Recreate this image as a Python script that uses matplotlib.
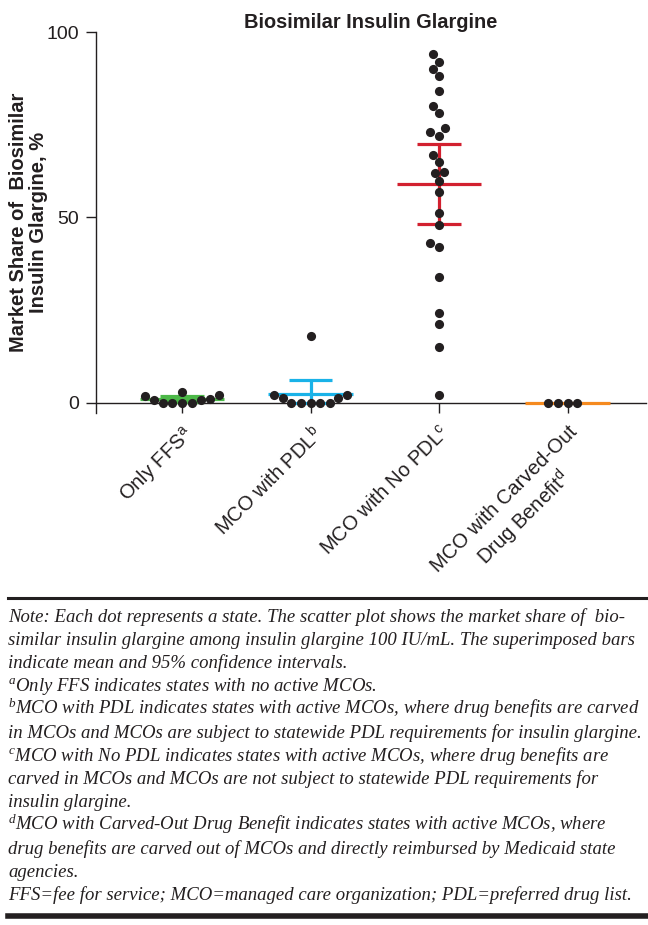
import matplotlib
matplotlib.use("Agg")
import matplotlib.pyplot as plt
from matplotlib.lines import Line2D
from matplotlib.transforms import ScaledTranslation
import numpy as np
import pandas as pd
import seaborn as sns

# market share (%) per state
only_ffs = [1.0, 0.0, 0.0, 2.0, 0.0, 0.0, 2.8, 0.7, 0.7, 1.9]
mco_pdl = [2.0, 1.2, 0.0, 0.0, 0.0, 0.0, 0.0, 1.2, 2.0, 17.9]
mco_no_pdl = [94.1, 92.1, 90.1, 88.1, 84.1, 80.0, 78.1, 74.1, 73.0, 72.1,
              67.0, 65.0, 62.2, 62.0, 59.8, 56.9, 51.1, 47.9, 43.0, 42.0,
              33.9, 24.1, 21.1, 15.0, 2.1]
carved_out = [0.0, 0.0, 0.0, 0.0]

groups = ["Only FFS", "MCO with PDL", "MCO with No PDL", "MCO with Carved-Out"]
tick_labels = [r"Only FFS$^{\mathrm{a}}$",
               r"MCO with PDL$^{\mathrm{b}}$",
               r"MCO with No PDL$^{\mathrm{c}}$",
               "MCO with Carved-Out\n" + r"Drug Benefit$^{\mathrm{d}}$"]

# mean and 95% CI bars
means = [1.0, 2.4, 59.1, 0.0]
ci_lo = [0.3, 0.0, 48.3, 0.0]
ci_hi = [1.9, 6.2, 69.9, 0.0]
bar_colors = ["#4cb848", "#19b2e8", "#d2202f", "#f58a1f"]

note_lines = [
    "Note: Each dot represents a state. The scatter plot shows the market share of  bio-",
    "similar insulin glargine among insulin glargine 100 IU/mL. The superimposed bars",
    "indicate mean and 95% confidence intervals.",
    r"$^{\mathit{a}}$Only FFS indicates states with no active MCOs.",
    r"$^{\mathit{b}}$MCO with PDL indicates states with active MCOs, where drug benefits are carved",
    "in MCOs and MCOs are subject to statewide PDL requirements for insulin glargine.",
    r"$^{\mathit{c}}$MCO with No PDL indicates states with active MCOs, where drug benefits are",
    "carved in MCOs and MCOs are not subject to statewide PDL requirements for",
    "insulin glargine.",
    r"$^{\mathit{d}}$MCO with Carved-Out Drug Benefit indicates states with active MCOs, where",
    "drug benefits are carved out of MCOs and directly reimbursed by Medicaid state",
    "agencies.",
    "FFS=fee for service; MCO=managed care organization; PDL=preferred drug list.",
]

plt.rcParams["font.family"] = ["Liberation Sans", "DejaVu Sans"]
plt.rcParams["mathtext.fontset"] = "custom"
plt.rcParams["mathtext.rm"] = "Liberation Sans"
plt.rcParams["mathtext.it"] = "Liberation Serif:italic"
plt.rcParams["mathtext.bf"] = "Liberation Sans:bold"

ink = "#231f20"

df = pd.DataFrame({
    "group": ([groups[0]] * len(only_ffs) + [groups[1]] * len(mco_pdl)
              + [groups[2]] * len(mco_no_pdl) + [groups[3]] * len(carved_out)),
    "share": only_ffs + mco_pdl + mco_no_pdl + carved_out,
})

fig = plt.figure(figsize=(6.48, 9.25), dpi=100)
ax = fig.add_axes([0.1481, 0.5535, 0.8488, 0.4116])

# mean / CI bars above the axis line, behind the dots
for i in range(len(groups)):
    c = bar_colors[i]
    ax.hlines(means[i], i - 0.33, i + 0.33, color=c, lw=2.3, zorder=3.5)
    if ci_hi[i] > ci_lo[i]:
        ax.vlines(i, ci_lo[i], ci_hi[i], color=c, lw=2.3, zorder=3.5)
        ax.hlines([ci_lo[i], ci_hi[i]], i - 0.17, i + 0.17, color=c, lw=2.3, zorder=3.5)

sns.swarmplot(data=df, x="group", y="share", order=groups, ax=ax,
              color=ink, size=6.6, linewidth=0, zorder=4, clip_on=False)

ax.set_xlim(-0.67, 3.61)
ax.set_ylim(-2.8, 100)
ax.spines["top"].set_visible(False)
ax.spines["right"].set_visible(False)
ax.spines["bottom"].set_position(("data", 0))
for s in ("left", "bottom"):
    ax.spines[s].set_linewidth(1.0)
    ax.spines[s].set_color(ink)
    ax.spines[s].set_zorder(3)

ax.set_yticks([0, 50, 100])
ax.set_xticks(range(len(groups)))
ax.set_xticklabels(tick_labels, rotation=45, ha="right", va="top",
                   rotation_mode="anchor", multialignment="center")
shift = ScaledTranslation(8 / 100, 0, fig.dpi_scale_trans)
for lbl in ax.get_xticklabels():
    lbl.set_transform(lbl.get_transform() + shift)
ax.tick_params(axis="both", direction="out", length=7.2, width=1.0, color=ink,
               labelsize=14, labelcolor=ink)
for lbl in ax.get_xticklabels():
    lbl.set_fontsize(14.5)
ax.tick_params(axis="x", pad=7)
ax.tick_params(axis="y", pad=5)
ax.set_xlabel("")
ax.set_ylabel("Market Share of  Biosimilar\nInsulin Glargine, %",
              fontsize=14.5, fontweight="bold", color=ink,
              linespacing=1.05)
ax.yaxis.set_label_coords(-0.088, 0.5)
ax.set_title("Biosimilar Insulin Glargine", fontsize=14.4, fontweight="bold",
             color=ink, pad=2)

# footnote block with rules
fig.add_artist(Line2D([8 / 648, 646 / 648], [1 - 597.5 / 925] * 2,
                      color=ink, lw=2.2, transform=fig.transFigure))
fig.add_artist(Line2D([8 / 648, 646 / 648], [1 - 915.5 / 925] * 2,
                      color=ink, lw=4.0, transform=fig.transFigure))
y0 = 621.5
step = 23.2
for k, line in enumerate(note_lines):
    fig.text(8 / 648, 1 - (y0 + k * step) / 925, line, fontsize=13.5,
             family=["Liberation Serif", "DejaVu Serif"], style="italic",
             color=ink, ha="left", va="baseline")

fig.savefig("out.png", dpi=100)
